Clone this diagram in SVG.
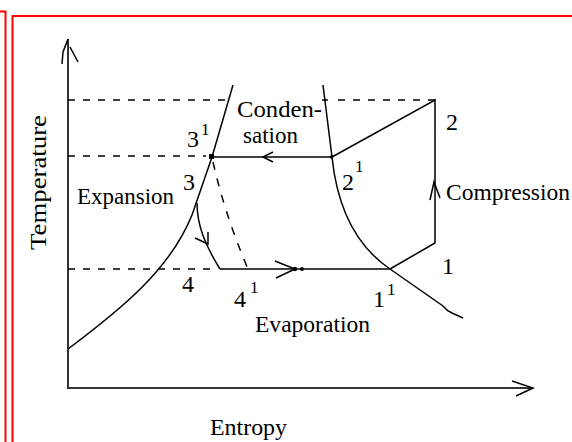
<svg xmlns="http://www.w3.org/2000/svg" width="572" height="442" viewBox="0 0 572 442">
<style>
.frame{stroke:#ff0000;stroke-width:2;fill:none}
.axis{stroke:#333;stroke-width:2;fill:none}
.ln{stroke:#000;stroke-width:1.5;fill:none}
.dash{stroke:#000;stroke-width:1.5;fill:none;stroke-dasharray:7 8}
.lbl{font-family:"Liberation Serif","Times New Roman",serif;font-size:24px;fill:#000}
.sup{font-family:"Liberation Serif","Times New Roman",serif;font-size:17px;fill:#000}
</style>
<rect width="572" height="442" fill="#fff"/>
<g id="frame">
<path class="frame" d="M0,11.5 H5.5 V442"/>
<path class="frame" d="M12.5,442 V16 H572"/>
</g>
<g id="axes">
<path class="axis" d="M68,39 V388 H533"/>
<path class="ln" d="M68,39 L63,52 L62,64 M70,47 L78,62"/>
<path class="ln" d="M512,381 L533,388 L516,396"/>
</g>
<g id="guides">
<path class="dash" d="M68,100 H228"/>
<path class="dash" d="M338,100 H435"/>
<path class="ln" d="M322,100 H328"/>
<path class="dash" d="M68,156 H206"/>
<path class="dash" d="M68,269 H218"/>
</g>
<g id="saturation-curves">
<path class="ln" d="M68,349 C120,310 170,270 192,215 L212,157 L233,85"/>
<path class="ln" d="M323,85 L332,157 Q340,235 390,269 L443,306 Q447,311 452,313 L463,318"/>
</g>
<g id="connectors">
<path class="ln" d="M212,157 H332"/>
<path class="ln" d="M273,152 L263,157 L273,162"/>
<path class="ln" d="M332,157 L435,100 V243 L390,269"/>
<path class="ln" d="M430,200 L434,182 L440,198"/>
<path class="ln" d="M220,269 H390"/>
<path class="ln" d="M275,261 L295,269 L276,278"/>
<path class="ln" d="M197,203 C197,225 205,245 220,269"/>
<path class="ln" d="M195,238 L208,244 L208,232"/>
<path class="dash" d="M213,162 Q225,215 248,269" style="stroke-dasharray:8 9"/>
<rect x="209" y="154" width="5" height="5" fill="#000"/>
<circle cx="331.5" cy="157" r="1.8" fill="#000"/>
<circle cx="295" cy="269" r="2.2" fill="#000"/>
<circle cx="302" cy="269" r="2" fill="#000"/>
</g>
<g id="labels">
<text class="lbl" x="237" y="117" textLength="85" lengthAdjust="spacingAndGlyphs">Conden-</text>
<text class="lbl" x="243" y="143" textLength="55" lengthAdjust="spacingAndGlyphs">sation</text>
<text class="lbl" x="77" y="204" textLength="97" lengthAdjust="spacingAndGlyphs">Expansion</text>
<text class="lbl" x="446" y="200" textLength="124" lengthAdjust="spacingAndGlyphs">Compression</text>
<text class="lbl" x="255" y="332" textLength="115" lengthAdjust="spacingAndGlyphs">Evaporation</text>
<text class="lbl" x="210" y="435" textLength="77" lengthAdjust="spacingAndGlyphs">Entropy</text>
<text class="lbl" transform="translate(46,250) rotate(-90)" textLength="135" lengthAdjust="spacingAndGlyphs">Temperature</text>
<text class="lbl" x="187" y="147">3</text><text class="sup" x="201" y="135">1</text>
<text class="lbl" x="183" y="190">3</text>
<text class="lbl" x="446" y="130">2</text>
<text class="lbl" x="342" y="190">2</text><text class="sup" x="355" y="172">1</text>
<text class="lbl" x="442" y="274">1</text>
<text class="lbl" x="373" y="307">1</text><text class="sup" x="387" y="295">1</text>
<text class="lbl" x="182" y="292">4</text>
<text class="lbl" x="234" y="307">4</text><text class="sup" x="250" y="293">1</text>
</g>
</svg>
